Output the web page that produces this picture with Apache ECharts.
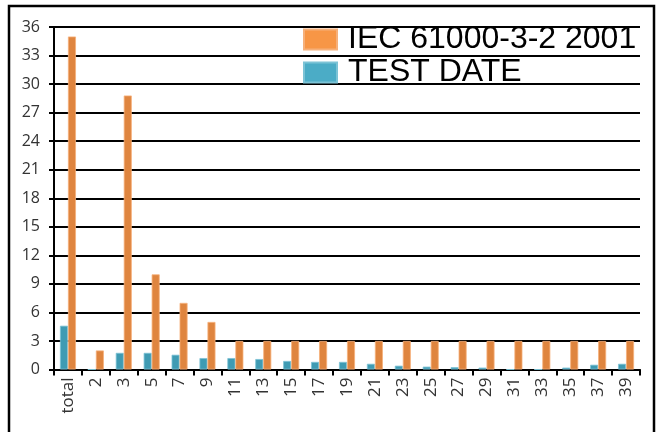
<!DOCTYPE html>
<html>
<head>
<meta charset="utf-8">
<script src="https://cdn.jsdelivr.net/npm/echarts@6/dist/echarts.min.js"></script>
<style>html,body{margin:0;padding:0;background:#fff}#c{width:661px;height:432px}</style>
</head>
<body>
<div id="c"></div>
<script>
var categories = ['total','2','3','5','7','9','11','13','15','17','19','21','23','25','27','29','31','33','35','37','39'];
var iecLimit = [35, 2, 28.8, 10, 7, 5, 3, 3, 3, 3, 3, 3, 3, 3, 3, 3, 3, 3, 3, 3, 3];
var testData = [4.6, 0, 1.75, 1.75, 1.55, 1.2, 1.2, 1.1, 0.9, 0.8, 0.8, 0.6, 0.4, 0.3, 0.25, 0.2, 0, 0, 0.2, 0.5, 0.6];
var yTicks = [0, 3, 6, 9, 12, 15, 18, 21, 24, 27, 30, 33, 36];

var chart = echarts.init(document.getElementById('c'));
chart.setOption({
  animation: false,
  backgroundColor: '#fff',
  graphic: [{
    type: 'rect', shape: {x: 9, y: 6, width: 645, height: 460},
    style: {fill: 'none', stroke: '#000', lineWidth: 2.5}, z: 100
  }],
  legend: {
    left: 303, top: 23, orient: 'vertical', padding: 0, itemGap: 0,
    itemWidth: 33, itemHeight: 20, icon: 'rect',
    textStyle: {fontFamily: 'Liberation Sans', fontSize: 32, color: '#000', lineHeight: 33, padding: [0, 0, 0, 6]},
    data: [
      {name: 'IEC 61000-3-2 2001', itemStyle: {color: '#F79646'}},
      {name: 'TEST DATE', itemStyle: {color: '#4BACC6'}}
    ]
  },
  grid: {left: 54, right: 21, top: 27, bottom: 62.5},
  xAxis: {
    type: 'category', data: categories,
    axisLine: {lineStyle: {color: '#000', width: 2}},
    axisTick: {show: true, length: 6, lineStyle: {color: '#000', width: 2}},
    axisLabel: {rotate: 90, interval: 0, margin: 8, fontFamily: 'Open Sans', fontSize: 17, color: '#333'}
  },
  yAxis: {
    type: 'value', min: yTicks[0], max: yTicks[yTicks.length - 1], interval: 3,
    axisLine: {show: true, lineStyle: {color: '#000', width: 2}},
    axisTick: {show: true, length: 5, lineStyle: {color: '#000', width: 2}},
    axisLabel: {margin: 14, fontFamily: 'Open Sans', fontSize: 16, color: '#333'},
    splitLine: {lineStyle: {color: '#000', width: 2}}
  },
  series: [
    {
      name: 'TEST DATE', type: 'bar', data: testData, barWidth: 8, barGap: '0%',
      itemStyle: {color: '#3F9BB3', borderColor: '#7CC3D6', borderWidth: 0.8}
    },
    {
      name: 'IEC 61000-3-2 2001', type: 'bar', data: iecLimit, barWidth: 8, barGap: '0%',
      itemStyle: {color: '#DF853F', borderColor: '#F6B07A', borderWidth: 0.8}
    }
  ]
});
</script>
</body>
</html>
